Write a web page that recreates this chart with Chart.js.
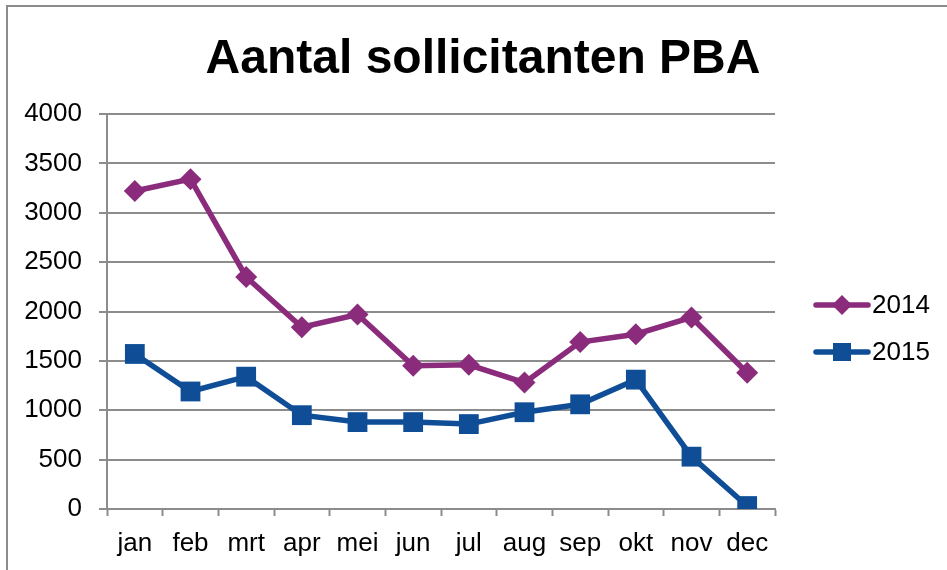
<!DOCTYPE html>
<html>
<head>
<meta charset="utf-8">
<title>Aantal sollicitanten PBA</title>
<script src="https://cdn.jsdelivr.net/npm/chart.js@4/dist/chart.umd.min.js"></script>
<style>
    html, body { margin: 0; padding: 0; background: #ffffff; }
    #wrap { width: 947px; height: 570px; position: relative; }
</style>
</head>
<body>
<div id="wrap"><canvas id="sollicitantenChart"></canvas></div>
<script>
        // Gegevens
        const months = ['jan', 'feb', 'mrt', 'apr', 'mei', 'jun', 'jul', 'aug', 'sep', 'okt', 'nov', 'dec'];
        const values2014 = [3220, 3340, 2350, 1840, 1970, 1450, 1460, 1280, 1690, 1770, 1940, 1380];
        const values2015 = [1570, 1190, 1340, 950, 880, 880, 860, 980, 1060, 1310, 530, 30];
        const yTicks = [0, 500, 1000, 1500, 2000, 2500, 3000, 3500, 4000];

        const chartTitle = 'Aantal sollicitanten PBA';
        const fontFamily = '"Liberation Sans", Arial, sans-serif';
        const gridColor = '#8c8c8c';
        const purple = '#8a2b7c';
        const blue = '#0f4e97';

        // Titel, rand en legenda tekenen
        const decorPlugin = {
            id: 'decor',
            beforeDraw(chart) {
                const ctx = chart.ctx;
                ctx.save();
                ctx.fillStyle = '#ffffff';
                ctx.fillRect(0, 0, chart.width, chart.height);
                ctx.strokeStyle = gridColor;
                ctx.lineWidth = 2;
                ctx.strokeRect(7, 6, chart.width + 10, chart.height + 10);
                ctx.restore();
            },
            afterDraw(chart) {
                const ctx = chart.ctx;
                ctx.save();
                ctx.fillStyle = '#000000';
                ctx.font = 'bold 48px ' + fontFamily;
                ctx.textAlign = 'center';
                ctx.textBaseline = 'alphabetic';
                ctx.fillText(chartTitle, 483, 73);

                const rows = [305, 352];
                chart.data.datasets.forEach(function(ds, i) {
                    const y = rows[i];
                    ctx.strokeStyle = ds.borderColor;
                    ctx.lineWidth = 5.5;
                    ctx.lineCap = 'round';
                    ctx.beginPath();
                    ctx.moveTo(816, y);
                    ctx.lineTo(868, y);
                    ctx.stroke();
                    ctx.fillStyle = ds.borderColor;
                    ctx.beginPath();
                    if (ds.pointStyle === 'rectRot') {
                        ctx.moveTo(842, y - 10);
                        ctx.lineTo(852, y);
                        ctx.lineTo(842, y + 10);
                        ctx.lineTo(832, y);
                        ctx.closePath();
                    } else {
                        ctx.rect(833, y - 9, 18, 18);
                    }
                    ctx.fill();
                    ctx.fillStyle = '#000000';
                    ctx.font = '26px ' + fontFamily;
                    ctx.textAlign = 'left';
                    ctx.textBaseline = 'middle';
                    ctx.fillText(ds.label, 872, y + 1);
                });
                ctx.restore();
            }
        };

        const ctx = document.getElementById('sollicitantenChart').getContext('2d');
        const sollicitantenChart = new Chart(ctx, {
            type: 'line',
            data: {
                labels: months,
                datasets: [{
                    label: '2014',
                    data: values2014,
                    borderColor: purple,
                    backgroundColor: purple,
                    borderWidth: 5.5,
                    pointStyle: 'rectRot',
                    pointRadius: 11,
                    pointHoverRadius: 11,
                    pointBorderWidth: 0,
                    tension: 0
                }, {
                    label: '2015',
                    data: values2015,
                    borderColor: blue,
                    backgroundColor: blue,
                    borderWidth: 5.5,
                    pointStyle: 'rect',
                    pointRadius: 14,
                    pointHoverRadius: 14,
                    pointBorderWidth: 0,
                    tension: 0
                }]
            },
            options: {
                responsive: true,
                maintainAspectRatio: false,
                animation: false,
                layout: {
                    padding: { top: 114, right: 172, bottom: 0, left: 0 }
                },
                plugins: {
                    legend: { display: false },
                    title: { display: false },
                    tooltip: { enabled: false }
                },
                scales: {
                    x: {
                        offset: true,
                        afterFit: function(scale) { scale.height = 61; },
                        grid: {
                            offset: true,
                            drawOnChartArea: false,
                            drawTicks: true,
                            tickLength: 7,
                            tickWidth: 2,
                            tickColor: gridColor
                        },
                        border: { display: true, color: gridColor, width: 2 },
                        ticks: {
                            color: '#000000',
                            padding: 12,
                            maxRotation: 0,
                            autoSkip: false,
                            font: { family: fontFamily, size: 26 }
                        }
                    },
                    y: {
                        min: 0,
                        max: 4000,
                        afterFit: function(scale) { scale.width = 107; },
                        afterBuildTicks: function(scale) {
                            scale.ticks = yTicks.map(function(v) { return { value: v }; });
                        },
                        grid: {
                            color: gridColor,
                            lineWidth: 2,
                            drawTicks: true,
                            tickLength: 8,
                            tickColor: gridColor
                        },
                        border: { display: true, color: gridColor, width: 2 },
                        ticks: {
                            color: '#000000',
                            padding: 17,
                            font: { family: fontFamily, size: 26 },
                            callback: function(value) {
                                return String(value);
                            }
                        }
                    }
                }
            },
            plugins: [decorPlugin]
        });
</script>
</body>
</html>
